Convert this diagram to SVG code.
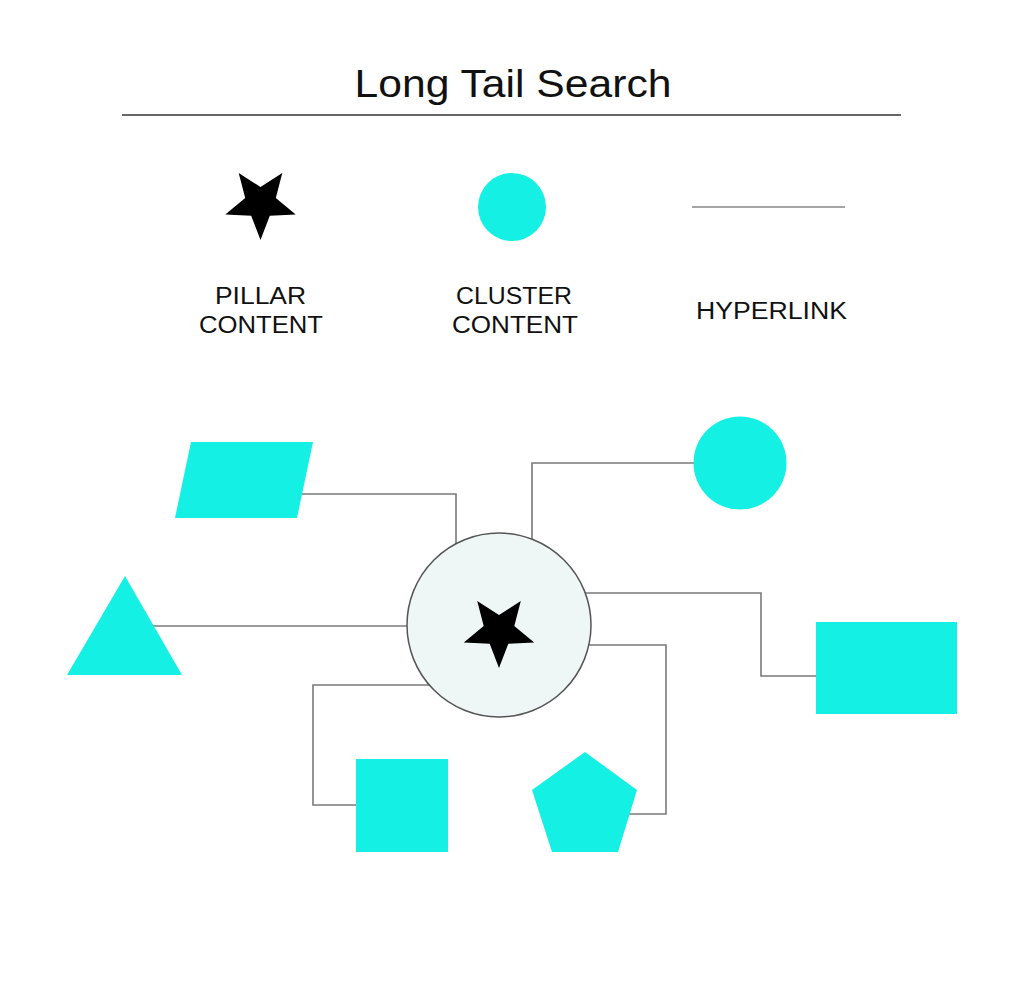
<svg xmlns="http://www.w3.org/2000/svg" width="1024" height="999" viewBox="0 0 1024 999">
  <defs>
    <style>
      .title { font-family: "Liberation Sans", Arial, sans-serif; font-size: 38px; fill: #111; }
      .lbl { font-family: "Liberation Sans", Arial, sans-serif; font-size: 23px; fill: #111; }
      .cyan { fill: #14F0E4; }
      .conn { fill: none; stroke: #7a7a7a; stroke-width: 1.6; }
      .star { fill: #000; }
    </style>
    <polygon id="star" points="0,37 -9.3,12.8 -35.2,11.4 -15.3,-5 -21.8,-29.9 0,-16 21.8,-29.9 15.3,-5 35.2,11.4 9.3,12.8"/>
  </defs>
  <rect width="1024" height="999" fill="#fff"/>

  <g id="title">
    <text class="title" x="513" y="97" text-anchor="middle" textLength="317" lengthAdjust="spacingAndGlyphs">Long Tail Search</text>
    <line x1="122" y1="115" x2="901" y2="115" stroke="#333" stroke-width="1.5"/>
  </g>

  <g id="legend-pillar">
    <use href="#star" class="star" x="260.5" y="203"/>
    <text class="lbl" x="260.5" y="304" text-anchor="middle" textLength="91" lengthAdjust="spacingAndGlyphs">PILLAR</text>
    <text class="lbl" x="261" y="333" text-anchor="middle" textLength="124" lengthAdjust="spacingAndGlyphs">CONTENT</text>
  </g>
  <g id="legend-cluster">
    <circle class="cyan" cx="512" cy="207" r="34"/>
    <text class="lbl" x="514" y="304" text-anchor="middle" textLength="116" lengthAdjust="spacingAndGlyphs">CLUSTER</text>
    <text class="lbl" x="515" y="333" text-anchor="middle" textLength="126" lengthAdjust="spacingAndGlyphs">CONTENT</text>
  </g>
  <g id="legend-hyperlink">
    <line x1="692" y1="207" x2="845" y2="207" stroke="#888" stroke-width="1.6"/>
    <text class="lbl" x="771.5" y="319" text-anchor="middle" textLength="151" lengthAdjust="spacingAndGlyphs">HYPERLINK</text>
  </g>

  <g id="connectors">
    <polyline class="conn" points="302,494 456,494 456,545"/>
    <polyline class="conn" points="532,540 532,463 700,463"/>
    <line class="conn" x1="150" y1="626" x2="408" y2="626"/>
    <polyline class="conn" points="585,593 761,593 761,676 817,676"/>
    <polyline class="conn" points="589,645 666,645 666,814 628,814"/>
    <polyline class="conn" points="430,685 313,685 313,805 357,805"/>
  </g>

  <g id="pillar-hub">
    <circle cx="499" cy="625" r="92" fill="#EFF6F6" stroke="#555" stroke-width="1.5"/>
    <use href="#star" class="star" x="499" y="631"/>
  </g>
  <g id="node-parallelogram">
    <polygon class="cyan" points="191,442 313,442 297,518 175,518"/>
  </g>
  <g id="node-circle">
    <circle class="cyan" cx="740" cy="463" r="46.5"/>
  </g>
  <g id="node-triangle">
    <polygon class="cyan" points="125,576 182,675 67,675"/>
  </g>
  <g id="node-rectangle">
    <rect class="cyan" x="816" y="622" width="141" height="92"/>
  </g>
  <g id="node-square">
    <rect class="cyan" x="356" y="759" width="92" height="93"/>
  </g>
  <g id="node-pentagon">
    <polygon class="cyan" points="585,752 637,790 618,852 552,852 532,790"/>
  </g>
</svg>
